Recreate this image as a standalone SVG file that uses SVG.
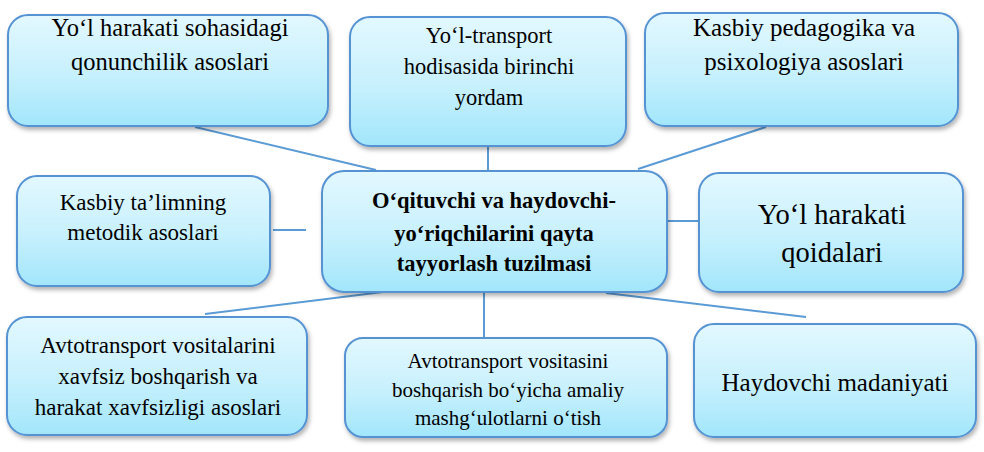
<svg xmlns="http://www.w3.org/2000/svg" width="984" height="452" viewBox="0 0 984 452">
<defs>
<linearGradient id="g" x1="0" y1="0" x2="0" y2="1">
<stop offset="0" stop-color="#E3F8FF"/>
<stop offset="0.55" stop-color="#C6F0FD"/>
<stop offset="1" stop-color="#A2E6FB"/>
</linearGradient>
<filter id="sh" x="-10%" y="-10%" width="120%" height="130%">
<feDropShadow dx="1.5" dy="3" stdDeviation="2" flood-color="#000" flood-opacity="0.3"/>
</filter>
</defs>
<style>
.box{fill:url(#g);stroke:#5593D3;stroke-width:2;filter:url(#sh)}
.c{stroke:#5B9BD5;stroke-width:2;fill:none}
</style>
<rect width="984" height="452" fill="#fff"/>
<g id="connectors">
<line class="c" x1="195" y1="127" x2="376" y2="170"/>
<line class="c" x1="488" y1="146" x2="488" y2="170"/>
<line class="c" x1="638" y1="169" x2="766" y2="127"/>
<line class="c" x1="273" y1="230" x2="306" y2="230"/>
<line class="c" x1="667" y1="221" x2="698" y2="221"/>
<line class="c" x1="407" y1="289" x2="205" y2="314"/>
<line class="c" x1="484" y1="292" x2="484" y2="338"/>
<line class="c" x1="606" y1="293" x2="806" y2="317"/>
</g>
<g id="n1">
<rect class="box" x="8" y="15" width="320" height="111" rx="20"/>
<text x="170" y="36" style="font-family:'Liberation Serif',serif;font-size:24.5px" text-anchor="middle">Yo‘l harakati sohasidagi</text>
<text x="170" y="70" style="font-family:'Liberation Serif',serif;font-size:24.5px" text-anchor="middle">qonunchilik asoslari</text>
</g>
<g id="n2">
<rect class="box" x="350" y="17" width="276" height="129" rx="20"/>
<text x="489" y="43" style="font-family:'Liberation Serif',serif;font-size:22.5px" text-anchor="middle">Yo‘l-transport</text>
<text x="489" y="74" style="font-family:'Liberation Serif',serif;font-size:22.5px" text-anchor="middle">hodisasida birinchi</text>
<text x="489" y="105" style="font-family:'Liberation Serif',serif;font-size:22.5px" text-anchor="middle">yordam</text>
</g>
<g id="n3">
<rect class="box" x="645" y="13" width="313" height="113" rx="20"/>
<text x="804" y="36" style="font-family:'Liberation Serif',serif;font-size:25px" text-anchor="middle">Kasbiy pedagogika va</text>
<text x="804" y="70" style="font-family:'Liberation Serif',serif;font-size:25px" text-anchor="middle">psixologiya asoslari</text>
</g>
<g id="n4">
<rect class="box" x="17" y="176" width="253" height="110" rx="20"/>
<text x="143" y="210" style="font-family:'Liberation Serif',serif;font-size:23px" text-anchor="middle">Kasbiy ta’limning</text>
<text x="143" y="240" style="font-family:'Liberation Serif',serif;font-size:23px" text-anchor="middle">metodik asoslari</text>
</g>
<g id="n5">
<rect class="box" x="322" y="171" width="345" height="121" rx="22"/>
<text x="494" y="208" style="font-family:'Liberation Serif',serif;font-size:22.5px;font-weight:bold" text-anchor="middle">O‘qituvchi va haydovchi-</text>
<text x="494" y="241" style="font-family:'Liberation Serif',serif;font-size:22.5px;font-weight:bold" text-anchor="middle">yo‘riqchilarini qayta</text>
<text x="494" y="271" style="font-family:'Liberation Serif',serif;font-size:22.5px;font-weight:bold" text-anchor="middle">tayyorlash tuzilmasi</text>
</g>
<g id="n6">
<rect class="box" x="699" y="173" width="264" height="119" rx="20"/>
<text x="832" y="224" style="font-family:'Liberation Serif',serif;font-size:28.5px" text-anchor="middle">Yo‘l harakati</text>
<text x="832" y="262" style="font-family:'Liberation Serif',serif;font-size:28.5px" text-anchor="middle">qoidalari</text>
</g>
<g id="n7">
<rect class="box" x="7" y="317" width="300" height="118" rx="20"/>
<text x="158" y="353" style="font-family:'Liberation Serif',serif;font-size:23px" text-anchor="middle">Avtotransport vositalarini</text>
<text x="158" y="384" style="font-family:'Liberation Serif',serif;font-size:23px" text-anchor="middle">xavfsiz boshqarish va</text>
<text x="158" y="415" style="font-family:'Liberation Serif',serif;font-size:23px" text-anchor="middle">harakat xavfsizligi asoslari</text>
</g>
<g id="n8">
<rect class="box" x="345" y="338" width="322" height="99" rx="18"/>
<text x="508" y="368" style="font-family:'Liberation Serif',serif;font-size:21px" text-anchor="middle">Avtotransport vositasini</text>
<text x="508" y="397" style="font-family:'Liberation Serif',serif;font-size:21px" text-anchor="middle">boshqarish bo‘yicha amaliy</text>
<text x="508" y="425" style="font-family:'Liberation Serif',serif;font-size:21px" text-anchor="middle">mashg‘ulotlarni o‘tish</text>
</g>
<g id="n9">
<rect class="box" x="694" y="324" width="282" height="113" rx="20"/>
<text x="835" y="391" style="font-family:'Liberation Serif',serif;font-size:25px" text-anchor="middle">Haydovchi madaniyati</text>
</g>
</svg>
